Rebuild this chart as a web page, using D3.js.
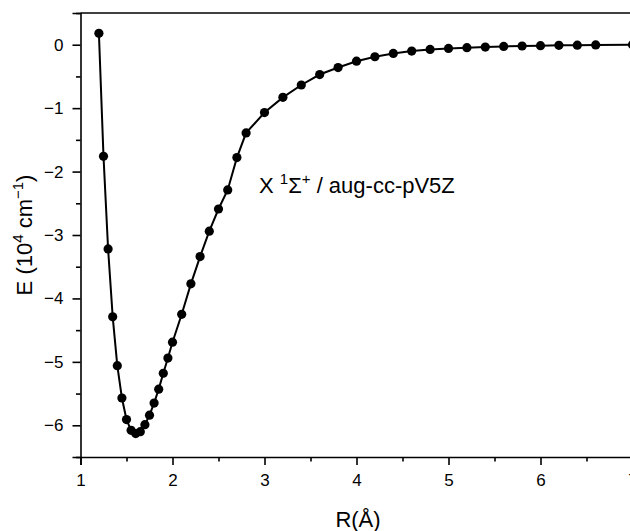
<!DOCTYPE html>
<html>
<head>
<meta charset="utf-8">
<script src="https://cdn.jsdelivr.net/npm/d3@7"></script>
<style>
  html, body { margin: 0; padding: 0; background: #fff; }
  svg { display: block; font-family: 'Liberation Sans', Arial, sans-serif; }
</style>
</head>
<body>
<div id="chart"></div>
<script>
const distances = [
  1.2, 1.25, 1.3, 1.35, 1.4, 1.45, 1.5, 1.55, 1.6, 1.65, 1.7, 1.75, 1.8, 1.85, 1.9, 1.95, 2.0,
  2.1, 2.2, 2.3, 2.4, 2.5, 2.6, 2.7, 2.8,
  3.0, 3.2, 3.4, 3.6, 3.8, 4.0, 4.2, 4.4, 4.6, 4.8, 5.0, 5.2, 5.4, 5.6, 5.8, 6.0, 6.2, 6.4, 6.6,
  7.0
]
const energies = [
  0.18, -1.76, -3.22, -4.29, -5.06, -5.57, -5.91, -6.08, -6.13, -6.10, -5.99, -5.84, -5.65, -5.43, -5.18, -4.94, -4.69,
  -4.25, -3.77, -3.34, -2.94, -2.59, -2.29, -1.78, -1.39,
  -1.07, -0.83, -0.635, -0.47, -0.36, -0.26, -0.19, -0.137, -0.10, -0.074, -0.058, -0.047, -0.037, -0.027, -0.02, -0.015, -0.01, -0.007, -0.004,
  0.0
]
const xTicks = [1, 2, 3, 4, 5, 6, 7]
const yTicks = [0, -1, -2, -3, -4, -5, -6]
const xMinor = [1.5, 2.5, 3.5, 4.5, 5.5, 6.5]
const yMinor = [0.5, -0.5, -1.5, -2.5, -3.5, -4.5, -5.5, -6.5]

const width = 630
const height = 531
const margin = { top: 13, left: 80.5, bottom: 74 }

const points = distances.map((r, i) => ({ r, e: energies[i] }))

const svg = d3.select('#chart')
  .append('svg')
  .attr('width', width)
  .attr('height', height)

const xScale = d3.scaleLinear()
  .domain([1, 7])
  .range([margin.left, 632.5])

const yScale = d3.scaleLinear()
  .domain([-6.5, 0.5])
  .range([height - margin.bottom, margin.top])

const fmt = d3.format('d')

// x axis, major then minor ticks
svg.append('g')
  .attr('transform', `translate(0,${yScale(-6.5)})`)
  .call(d3.axisBottom(xScale).tickValues(xTicks).tickSize(8).tickPadding(9).tickFormat(fmt))
  .call(g => g.select('.domain').attr('stroke-width', 1.6))
  .call(g => g.selectAll('.tick line').attr('stroke-width', 1.6))
  .attr('font-family', null)
  .attr('font-size', 17)

svg.append('g')
  .attr('transform', `translate(0,${yScale(-6.5)})`)
  .call(d3.axisBottom(xScale).tickValues(xMinor).tickSize(4.5).tickFormat(''))
  .call(g => g.select('.domain').remove())
  .call(g => g.selectAll('.tick line').attr('stroke-width', 1.6))

// y axis
svg.append('g')
  .attr('transform', `translate(${margin.left},0)`)
  .call(d3.axisLeft(yScale).tickValues(yTicks).tickSize(8).tickPadding(9).tickFormat(fmt))
  .call(g => g.select('.domain').attr('stroke-width', 1.6))
  .call(g => g.selectAll('.tick line').attr('stroke-width', 1.6))
  .attr('font-family', null)
  .attr('font-size', 17)

svg.append('g')
  .attr('transform', `translate(${margin.left},0)`)
  .call(d3.axisLeft(yScale).tickValues(yMinor).tickSize(4.5).tickFormat(''))
  .call(g => g.select('.domain').remove())
  .call(g => g.selectAll('.tick line').attr('stroke-width', 1.6))

// top frame line
svg.append('line')
  .attr('x1', xScale(1))
  .attr('x2', xScale(7))
  .attr('y1', yScale(0.5))
  .attr('y2', yScale(0.5))
  .attr('stroke', '#000')
  .attr('stroke-width', 1.6)

const line = d3.line()
  .x(d => xScale(d.r))
  .y(d => yScale(d.e))

svg.append('path')
  .datum(points)
  .attr('d', line)
  .attr('fill', 'none')
  .attr('stroke', '#000')
  .attr('stroke-width', 2)

svg.selectAll('.dot')
  .data(points)
  .enter()
  .append('circle')
  .attr('class', 'dot')
  .attr('cx', d => xScale(d.r))
  .attr('cy', d => yScale(d.e))
  .attr('r', 4.6)
  .attr('fill', '#000')

// axis titles
svg.append('text')
  .attr('x', 358)
  .attr('y', 527)
  .attr('text-anchor', 'middle')
  .attr('font-size', 22)
  .text('R(Å)')

const yTitle = svg.append('text')
  .attr('transform', `translate(32,${yScale(-3)}) rotate(-90)`)
  .attr('text-anchor', 'middle')
  .attr('font-size', 22)
yTitle.append('tspan').text('E (10')
yTitle.append('tspan').attr('dy', -9).attr('font-size', 15).text('4')
yTitle.append('tspan').attr('dy', 9).text(' cm')
yTitle.append('tspan').attr('dy', -9).attr('font-size', 15).text('−1')
yTitle.append('tspan').attr('dy', 9).text(')')

const note = svg.append('text')
  .attr('x', 259)
  .attr('y', 193)
  .attr('font-size', 22)
note.append('tspan').text('X ')
note.append('tspan').attr('dy', -9).attr('font-size', 15).text('1')
note.append('tspan').attr('dy', 9).text('Σ')
note.append('tspan').attr('dy', -9).attr('font-size', 15).text('+')
note.append('tspan').attr('dy', 9).text(' / aug-cc-pV5Z')
</script>
</body>
</html>
